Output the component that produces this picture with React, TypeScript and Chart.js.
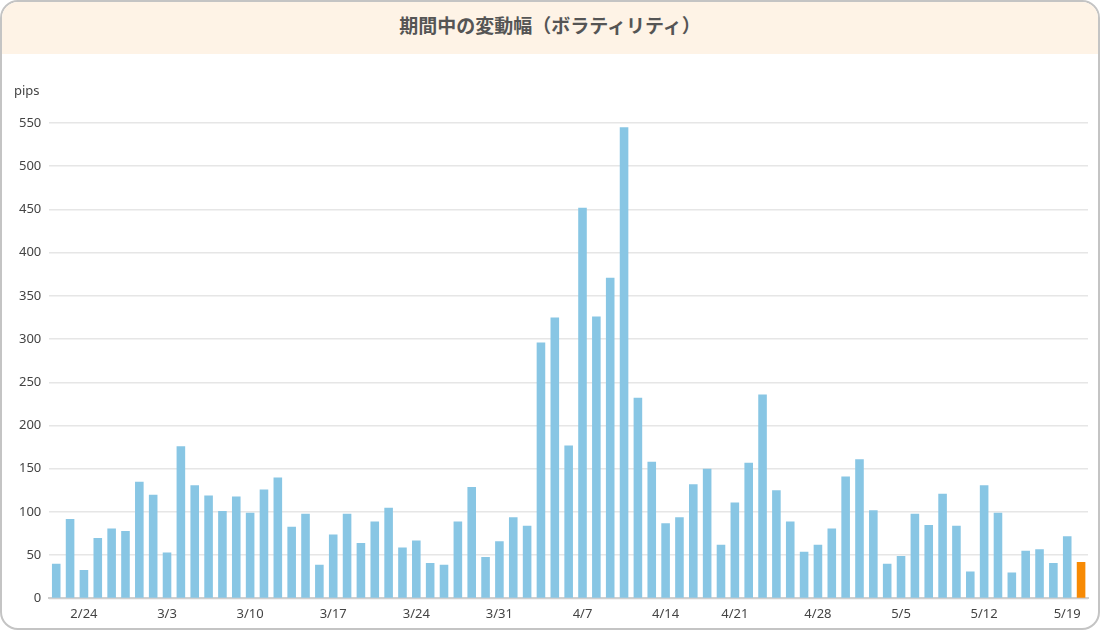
import React, { useEffect, useRef } from "react";
import { Chart, registerables } from "chart.js";

Chart.register(...registerables);

// trading days (Mon-Sat, 4/18 closed)
const days: string[] = [
  "2/21", "2/22",
  "2/24", "2/25", "2/26", "2/27", "2/28", "3/1",
  "3/3", "3/4", "3/5", "3/6", "3/7", "3/8",
  "3/10", "3/11", "3/12", "3/13", "3/14", "3/15",
  "3/17", "3/18", "3/19", "3/20", "3/21", "3/22",
  "3/24", "3/25", "3/26", "3/27", "3/28", "3/29",
  "3/31", "4/1", "4/2", "4/3", "4/4", "4/5",
  "4/7", "4/8", "4/9", "4/10", "4/11", "4/12",
  "4/14", "4/15", "4/16", "4/17", "4/19",
  "4/21", "4/22", "4/23", "4/24", "4/25", "4/26",
  "4/28", "4/29", "4/30", "5/1", "5/2", "5/3",
  "5/5", "5/6", "5/7", "5/8", "5/9", "5/10",
  "5/12", "5/13", "5/14", "5/15", "5/16", "5/17",
  "5/19", "5/20",
];

const pips: number[] = [
  40, 92,
  33, 70, 81, 78, 135, 120,
  53, 176, 131, 119, 101, 118,
  99, 126, 140, 83, 98, 39,
  74, 98, 64, 89, 105, 59,
  67, 41, 39, 89, 129, 48,
  66, 94, 84, 296, 325, 177,
  452, 326, 371, 545, 232, 158,
  87, 94, 132, 150, 62,
  111, 157, 236, 125, 89, 54,
  62, 81, 141, 161, 102, 40,
  49, 98, 85, 121, 84, 31,
  131, 99, 30, 55, 57, 41,
  72, 42,
];

const tickDays: string[] = [
  "2/24", "3/3", "3/10", "3/17", "3/24", "3/31", "4/7",
  "4/14", "4/21", "4/28", "5/5", "5/12", "5/19",
];

const BLUE = "#88c6e4";
const ORANGE = "#f78a04";
const TICK_FONT = { family: "'Noto Sans', 'Noto Sans CJK JP', sans-serif", size: 13 };

const VolatilityChart: React.FC = () => {
  const canvasRef = useRef<HTMLCanvasElement | null>(null);
  const chartRef = useRef<Chart<"bar", number[], string> | null>(null);

  useEffect(() => {
    if (!canvasRef.current) return;
    const ctx = canvasRef.current.getContext("2d");
    if (!ctx) return;

    if (chartRef.current) {
      chartRef.current.destroy();
    }

    const colors = pips.map((_, i) => (i === pips.length - 1 ? ORANGE : BLUE));

    chartRef.current = new Chart(ctx, {
      type: "bar",
      data: {
        labels: days,
        datasets: [
          {
            label: "pips",
            data: pips,
            backgroundColor: colors,
            barPercentage: 0.62,
            categoryPercentage: 1,
          },
        ],
      },
      options: {
        animation: false,
        responsive: true,
        maintainAspectRatio: false,
        layout: { padding: { left: 9, right: 10, top: 69, bottom: 6 } },
        plugins: {
          legend: { display: false },
          tooltip: { enabled: false },
        },
        scales: {
          x: {
            grid: { display: false },
            border: { display: true, color: "#cfcfcf", width: 2 },
            ticks: {
              autoSkip: false,
              maxRotation: 0,
              color: "#444",
              font: TICK_FONT,
              padding: 0,
              callback: (_v, i) => (tickDays.includes(days[i]) ? days[i] : ""),
            },
          },
          y: {
            min: 0,
            max: 550,
            grid: { color: "#e6e6e6", lineWidth: 1.5, drawTicks: false },
            border: { display: false },
            ticks: {
              stepSize: 50,
              color: "#444",
              font: TICK_FONT,
              padding: 8,
            },
          },
        },
      },
    });

    return () => {
      if (chartRef.current) {
        chartRef.current.destroy();
        chartRef.current = null;
      }
    };
  }, []);

  return (
    <div style={{ position: "relative", width: "100%", height: 574 }}>
      <span
        style={{
          position: "absolute",
          left: 12,
          top: 27,
          fontSize: 13,
          color: "#444",
          fontFamily: "'Noto Sans', sans-serif",
        }}
      >
        pips
      </span>
      <canvas ref={canvasRef}></canvas>
    </div>
  );
};

const App: React.FC = () => {
  return (
    <div
      style={{
        position: "fixed",
        inset: 0,
        boxSizing: "border-box",
        border: "2px solid #c4c4c4",
        borderRadius: 18,
        overflow: "hidden",
        background: "#fff",
      }}
    >
      <div
        style={{
          height: 52,
          boxSizing: "border-box",
          paddingBottom: 8,
          background: "#fef3e6",
          display: "flex",
          alignItems: "center",
          justifyContent: "center",
          fontFamily: "'Noto Sans CJK JP', sans-serif",
          fontWeight: "bold",
          fontSize: 19,
          color: "#555",
        }}
      >
        期間中の変動幅（ボラティリティ）
      </div>
      <VolatilityChart />
    </div>
  );
};

export default App;
